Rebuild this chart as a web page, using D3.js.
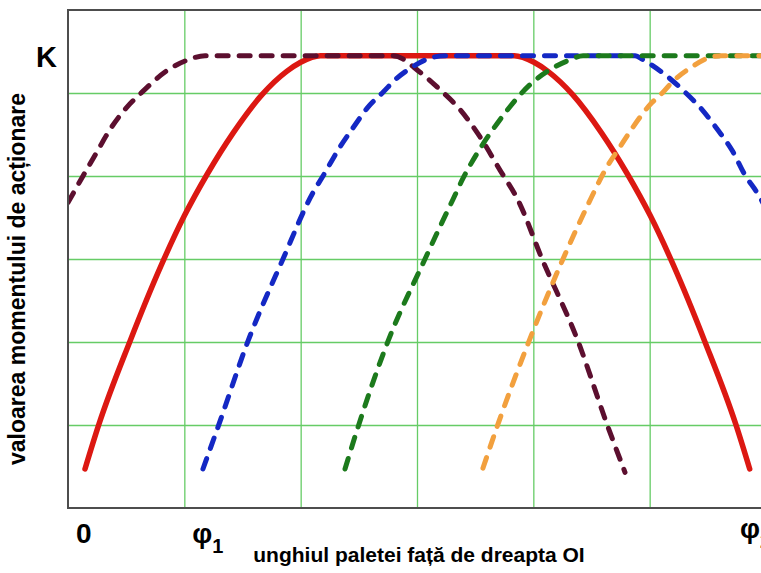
<!DOCTYPE html>
<html>
<head>
<meta charset="utf-8">
<script src="https://cdn.jsdelivr.net/npm/d3@7"></script>
<style>
  html, body { margin: 0; padding: 0; background: #fff; }
  svg { display: block; }
</style>
</head>
<body>
<script>
// Actuation moment of each blade versus the blade angle to line OI.
// Angles in grid units (0 .. 6), moment in grid units (0 .. 6), K = plateau.

const xTickValues = [0, 1, 6];
const xTickNames = ["0", "φ", "φ"];
const xTickSubs = ["", "1", "2"];
const kLevel = 5.45;
const kLabel = "K";
const xTitle = "unghiul paletei față de dreapta OI";
const yTitle = "valoarea momentului de acționare";

const redCurve = [
  [0.146, 0.47], [0.266, 1.01], [0.533, 2.01], [0.80, 2.92], [1.0, 3.52],
  [1.2, 4.03], [1.42, 4.52], [1.668, 4.98], [1.88, 5.26], [2.0, 5.37],
  [2.17, 5.45], [3.836, 5.45], [4.006, 5.37], [4.126, 5.26], [4.338, 4.98],
  [4.586, 4.52], [4.806, 4.03], [5.006, 3.52], [5.206, 2.92], [5.473, 2.01],
  [5.74, 1.01], [5.86, 0.47]
];

const maroonCurve = [
  [0.0, 3.68], [0.129, 4.0], [0.249, 4.29], [0.361, 4.56],
  [0.507, 4.83], [0.636, 5.01], [0.851, 5.27], [1.032, 5.40], [1.178, 5.45],
  [2.794, 5.45], [3.026, 5.25], [3.198, 5.04], [3.37, 4.80], [3.542, 4.47],
  [3.714, 4.07], [3.868, 3.71], [4.075, 3.0], [4.384, 2.01], [4.633, 1.01],
  [4.788, 0.43]
];

const blueCurve = [
  [1.160, 0.47], [1.298, 1.01], [1.547, 2.01], [1.848, 3.0], [2.106, 3.80],
  [2.192, 4.0], [2.338, 4.35], [2.45, 4.58], [2.579, 4.83], [2.708, 5.01],
  [2.828, 5.18], [2.923, 5.28], [3.112, 5.42], [3.241, 5.45], [4.874, 5.45],
  [4.943, 5.40], [5.115, 5.24], [5.304, 5.01], [5.45, 4.80], [5.588, 4.55],
  [5.708, 4.31], [5.82, 4.01], [5.923, 3.80], [6.03, 3.53]
];

const greenCurve = [
  [2.381, 0.47], [2.501, 1.01], [2.751, 2.01], [3.069, 3.0], [3.198, 3.39],
  [3.31, 3.72], [3.395, 3.97], [3.542, 4.33], [3.688, 4.63], [3.774, 4.79],
  [3.971, 5.10], [4.143, 5.28], [4.315, 5.40], [4.427, 5.45], [6.1, 5.45]
];

const orangeCurve = [
  [3.567, 0.48], [3.696, 1.01], [3.963, 2.01], [4.255, 3.0], [4.461, 3.63],
  [4.633, 4.11], [4.745, 4.35], [4.857, 4.59], [5.003, 4.86], [5.115, 5.01],
  [5.192, 5.13], [5.347, 5.30], [5.519, 5.43], [5.62, 5.45], [6.1, 5.45]
];

const W = 761, H = 573;
const margin = { left: 68, top: 10 };
const plotW = 698, plotH = 498;

const svg = d3.select("body").append("svg")
  .attr("width", W).attr("height", H)
  .style("font-family", "'Liberation Sans', Arial, sans-serif");

svg.append("rect").attr("width", W).attr("height", H).attr("fill", "#fff");

const x = d3.scaleLinear().domain([0, 6]).range([margin.left, margin.left + plotW]);
const y = d3.scaleLinear().domain([0, 6]).range([margin.top + plotH, margin.top]);

// grid
const grid = svg.append("g").attr("class", "grid");
grid.append("g")
  .attr("transform", `translate(0,${margin.top + plotH})`)
  .call(d3.axisBottom(x).tickValues([1, 2, 3, 4, 5]).tickSize(-plotH).tickFormat(""))
  .call(g => g.select(".domain").remove());
grid.append("g")
  .attr("transform", `translate(${margin.left},0)`)
  .call(d3.axisLeft(y).tickValues([1, 2, 3, 4, 5]).tickSize(-plotW).tickFormat(""))
  .call(g => g.select(".domain").remove());
grid.selectAll(".tick line").attr("stroke", "#66cc66").attr("stroke-width", 1.3);

// clip for curves
svg.append("clipPath").attr("id", "plotClip")
  .append("rect").attr("x", margin.left).attr("y", margin.top)
  .attr("width", plotW).attr("height", plotH);

const line = d3.line()
  .x(d => x(d[0]))
  .y(d => y(d[1]))
  .curve(d3.curveMonotoneX);

const series = [
  { data: redCurve, color: "#dc1812", dash: null, width: 5.5 },
  { data: maroonCurve, color: "#5c0f2f", dash: "11,11", width: 5 },
  { data: blueCurve, color: "#1428c4", dash: "11,11", width: 5 },
  { data: greenCurve, color: "#1c7a1c", dash: "11,11", width: 5 },
  { data: orangeCurve, color: "#f2a03e", dash: "11,11", width: 5 }
];

const curves = svg.append("g").attr("clip-path", "url(#plotClip)");
series.forEach(s => {
  curves.append("path")
    .datum(s.data)
    .attr("d", line)
    .attr("fill", "none")
    .attr("stroke", s.color)
    .attr("stroke-width", s.width)
    .attr("stroke-linecap", "round")
    .attr("stroke-linejoin", "round")
    .attr("stroke-dasharray", s.dash);
});

// frame
svg.append("rect")
  .attr("x", margin.left).attr("y", margin.top)
  .attr("width", plotW).attr("height", plotH)
  .attr("fill", "none").attr("stroke", "#4d4d4d").attr("stroke-width", 2);

// K label
svg.append("text")
  .attr("x", margin.left - 11).attr("y", y(kLevel) + 11)
  .attr("text-anchor", "end")
  .attr("font-size", 29).attr("font-weight", "bold").attr("fill", "#000")
  .text(kLabel);

// x tick labels
xTickValues.forEach((v, i) => {
  const last = v === 6;
  const t = svg.append("text")
    .attr("x", x(v) + (last ? -26 : 8))
    .attr("y", last ? 538 : 543)
    .attr("font-size", 28).attr("font-weight", "bold").attr("fill", "#000");
  t.append("tspan").text(xTickNames[i]);
  if (xTickSubs[i]) {
    t.append("tspan").attr("font-size", 20).attr("dy", 10).text(xTickSubs[i]);
  }
});

// axis titles
svg.append("text")
  .attr("x", x(3) + 2).attr("y", 562)
  .attr("text-anchor", "middle")
  .attr("font-size", 21).attr("font-weight", "bold").attr("fill", "#000")
  .text(xTitle);

svg.append("text")
  .attr("transform", "translate(25,279) rotate(-90)")
  .attr("text-anchor", "middle")
  .attr("font-size", 23).attr("font-weight", "bold").attr("fill", "#000")
  .text(yTitle);
</script>
</body>
</html>
